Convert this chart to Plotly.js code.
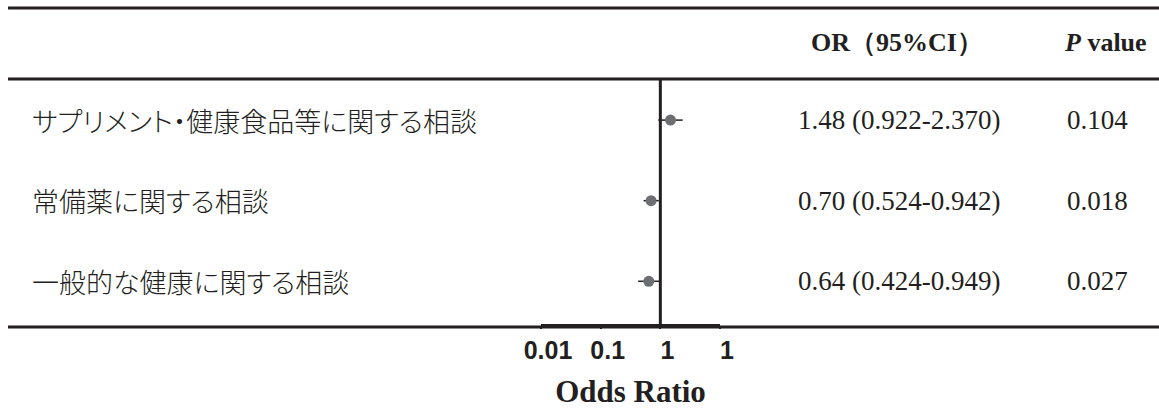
<!DOCTYPE html>
<html>
<head>
<meta charset="utf-8">
<script src="https://cdn.plot.ly/plotly-3.0.1.min.js"></script>
<style>html,body{margin:0;padding:0;background:#fff;}#chart{width:1159px;height:409px;}</style>
</head>
<body>
<div id="chart"></div>
<script>
// ---- data ----
const categories = ["サプリメント・健康食品等に関する相談", "常備薬に関する相談", "一般的な健康に関する相談"];
const orValues = [1.48, 0.70, 0.64];
const ciLow = [0.922, 0.524, 0.424];
const ciHigh = [2.370, 0.942, 0.949];
const pValues = ["0.104", "0.018", "0.027"];
const tickVals = [0.01, 0.1, 1, 10];
const tickLabels = ["0.01", "0.1", "1", "1"];
const headerOR = "OR（95%CI）";
const headerP = "<i>P</i> value";
const xTitle = "Odds Ratio";

// ---- layout helpers ----
const W = 1159, H = 409;
const ink = "#231f20";
const rowPos = categories.map((c, i) => categories.length - i); // 3,2,1
const orText = orValues.map((v, i) => v.toFixed(2) + " (" + ciLow[i].toFixed(3) + "-" + ciHigh[i].toFixed(3) + ")");

const yBottom = 1 - 324 / H, yTop = 1 - 79 / H;

const trace = {
  type: "scatter",
  mode: "markers",
  x: orValues,
  y: rowPos,
  marker: {color: "#6d6e71", size: 11},
  error_x: {
    type: "data",
    array: orValues.map((v, i) => ciHigh[i] - v),
    arrayminus: orValues.map((v, i) => v - ciLow[i]),
    visible: true, width: 0, thickness: 1.5, color: ink
  },
  hoverinfo: "skip",
  showlegend: false
};

const annotations = [];
categories.forEach((c, i) => {
  annotations.push({xref: "paper", yref: "y", x: 30 / W, y: rowPos[i], xanchor: "left", yanchor: "middle",
    text: "<span style=\"font-feature-settings:'palt'\">" + c + "</span>", showarrow: false,
    font: {family: "Noto Sans CJK JP", size: 27, color: ink, weight: 300}});
  annotations.push({xref: "paper", yref: "y", x: 899 / W, y: rowPos[i], xanchor: "center", yanchor: "middle",
    text: orText[i], showarrow: false, font: {family: "Liberation Serif", size: 27, color: ink}});
  annotations.push({xref: "paper", yref: "y", x: 1097 / W, y: rowPos[i], xanchor: "center", yanchor: "middle",
    text: pValues[i], showarrow: false, font: {family: "Liberation Serif", size: 27, color: ink}});
});
annotations.push({xref: "paper", yref: "paper", x: 897 / W, y: 1 - 43 / H, xanchor: "center", yanchor: "middle",
  text: "<b>" + headerOR + "</b>", showarrow: false, font: {family: "Liberation Serif", size: 26, color: ink}});
annotations.push({xref: "paper", yref: "paper", x: 1105 / W, y: 1 - 43 / H, xanchor: "center", yanchor: "middle",
  text: "<b>" + headerP + "</b>", showarrow: false, font: {family: "Liberation Serif", size: 26, color: ink}});

const hline = (py, x0) => ({type: "line", xref: "paper", yref: "paper", x0: x0 / W, x1: 1, y0: 1 - py / H, y1: 1 - py / H,
  line: {color: ink, width: 3}});

const layout = {
  width: W, height: H,
  margin: {l: 0, r: 0, t: 0, b: 0},
  paper_bgcolor: "#fff", plot_bgcolor: "rgba(0,0,0,0)",
  xaxis: {
    type: "log", range: [-2, 1], domain: [541 / W, 720 / W],
    tickvals: tickVals, ticktext: tickLabels,
    showgrid: false, zeroline: false,
    showline: true, linecolor: ink, linewidth: 2,
    ticks: "outside", ticklen: 3, tickwidth: 2, tickcolor: ink,
    ticklabelshift: 7,
    tickfont: {family: "Liberation Sans", size: 25, color: ink, weight: "bold"},
    title: {text: "<b>" + xTitle + "</b>", font: {family: "Liberation Serif", size: 31, color: ink}, standoff: 22},
    automargin: false, fixedrange: true
  },
  yaxis: {
    range: [0.47, 3.51], domain: [yBottom, yTop],
    showgrid: false, zeroline: false, showline: false, showticklabels: false, ticks: "",
    automargin: false, fixedrange: true
  },
  shapes: [
    hline(8, 8), hline(79, 8), hline(327, 8),
    {type: "line", xref: "x", yref: "paper", x0: 1, x1: 1, y0: yBottom, y1: yTop, line: {color: ink, width: 3}}
  ],
  annotations: annotations
};

Plotly.newPlot("chart", [trace], layout, {displayModeBar: false, staticPlot: true});
</script>
</body>
</html>
